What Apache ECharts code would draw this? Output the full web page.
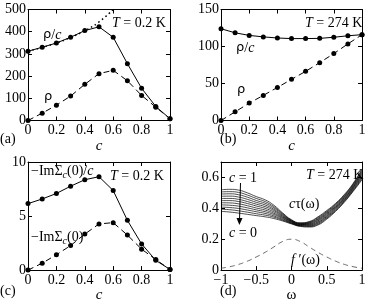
<!DOCTYPE html>
<html><head><meta charset="utf-8">
<script src="https://cdn.jsdelivr.net/npm/echarts@6/dist/echarts.min.js"></script>
<style>html,body{margin:0;padding:0;background:#fff}#c{width:374px;height:304px}</style>
</head><body><div id="c"></div>
<script>
// ---- data ----
const cVals = [0, 0.1, 0.2, 0.3, 0.4, 0.5, 0.6, 0.7, 0.8, 0.9, 1];
// (a) T = 0.2 K
const aRhoOverC = [312, 330, 349, 375, 405, 422, 375, 256, 145, 63, 8];
const aRho = [0, 33, 69, 110, 163, 211, 226, 179, 113, 60, 8];
const aDotC = [0, 0.1, 0.2, 0.3, 0.4, 0.5, 0.6];
const aDot = [312, 329, 349, 374, 404, 444, 500];
// (b) T = 274 K
const bRhoOverC = [124, 118.5, 115, 113, 111.5, 110.7, 110.7, 111, 112.5, 114.5, 116];
const bRho = [0, 11.7, 23.5, 33.9, 44.7, 55.6, 66.4, 78.2, 90.4, 103.5, 116];
// (c) T = 0.2 K
const cImSigOverC = [6.15, 6.58, 7.09, 7.76, 8.36, 8.64, 7.36, 4.6, 2.42, 0.9, 0.06];
const cImSig = [0, 0.64, 1.42, 2.27, 3.33, 4.27, 4.39, 3.24, 1.94, 0.97, 0.06];
// (d) T = 274 K
const omega = [-1, -0.875, -0.75, -0.625, -0.5, -0.375, -0.25, -0.125, 0, 0.125, 0.25, 0.375, 0.5, 0.625, 0.75, 0.875, 1];
const tau_c00 = [0.380,0.376,0.369,0.361,0.353,0.345,0.334,0.318,0.299,0.283,0.279,0.292,0.330,0.380,0.440,0.510,0.585];
const tau_c01 = [0.394,0.391,0.384,0.375,0.365,0.356,0.343,0.323,0.302,0.285,0.283,0.297,0.336,0.385,0.445,0.515,0.592];
const tau_c02 = [0.408,0.405,0.399,0.389,0.378,0.367,0.351,0.328,0.304,0.288,0.286,0.303,0.341,0.390,0.450,0.520,0.599];
const tau_c03 = [0.422,0.420,0.414,0.403,0.390,0.378,0.360,0.334,0.307,0.290,0.290,0.308,0.347,0.396,0.455,0.526,0.606];
const tau_c04 = [0.436,0.435,0.429,0.417,0.402,0.389,0.368,0.339,0.310,0.292,0.293,0.313,0.352,0.401,0.460,0.531,0.613];
const tau_c05 = [0.450,0.450,0.444,0.431,0.415,0.400,0.377,0.344,0.313,0.295,0.297,0.319,0.358,0.406,0.465,0.536,0.620];
const tau_c06 = [0.464,0.464,0.458,0.444,0.427,0.411,0.386,0.349,0.315,0.297,0.300,0.324,0.364,0.411,0.470,0.541,0.627];
const tau_c07 = [0.478,0.479,0.473,0.458,0.439,0.422,0.394,0.354,0.318,0.299,0.304,0.329,0.369,0.416,0.475,0.546,0.634];
const tau_c08 = [0.492,0.494,0.488,0.472,0.451,0.433,0.403,0.360,0.321,0.301,0.307,0.334,0.375,0.422,0.480,0.552,0.641];
const tau_c09 = [0.506,0.508,0.503,0.486,0.464,0.444,0.411,0.365,0.323,0.304,0.311,0.340,0.380,0.427,0.485,0.557,0.648];
const tau_c10 = [0.520,0.523,0.518,0.500,0.476,0.455,0.420,0.370,0.326,0.306,0.314,0.345,0.386,0.432,0.490,0.562,0.655];
const fPrime = [0.012,0.022,0.037,0.058,0.085,0.115,0.150,0.185,0.200,0.185,0.150,0.115,0.085,0.058,0.037,0.022,0.012];
const tauCurves = [tau_c00,tau_c01,tau_c02,tau_c03,tau_c04,tau_c05,tau_c06,tau_c07,tau_c08,tau_c09,tau_c10];

// ---- chart ----
const SERIF = '"Liberation Serif","DejaVu Serif",serif';
const SANS = '"DejaVu Sans","Liberation Sans",sans-serif';
const BLK = '#000';
const fmt = v => String(+v.toFixed(2)).replace('-', '\u2212');

const grids = [
  {left: 28, top: 9.5, width: 142, height: 111},
  {left: 221, top: 9.5, width: 141, height: 111},
  {left: 28, top: 162, width: 142, height: 110},
  {left: 221, top: 162, width: 141, height: 110}
];
const xSpec = [
  {min: 0, max: 1, interval: 0.2, name: 'c', italic: true},
  {min: 0, max: 1, interval: 0.2, name: 'c', italic: true},
  {min: 0, max: 1, interval: 0.2, name: 'c', italic: true},
  {min: -1, max: 1, interval: 0.5, name: '\u03c9', italic: false}
];
const ySpec = [
  {min: 0, max: 500, interval: 100},
  {min: 0, max: 150, interval: 50},
  {min: 0, max: 10, interval: 5},
  {min: 0, max: 0.7, interval: 0.2, hideMax: true}
];
const xAxes = [], yAxes = [];
grids.forEach((g, i) => {
  const xs = xSpec[i], ys = ySpec[i];
  const base = {
    gridIndex: i, type: 'value',
    axisLine: {show: true, onZero: false, lineStyle: {color: BLK, width: 1}},
    axisTick: {show: true, inside: true, length: 4, lineStyle: {color: BLK, width: 1}},
    splitLine: {show: false}
  };
  xAxes.push(Object.assign({}, base, {
    position: 'bottom', min: xs.min, max: xs.max, interval: xs.interval,
    axisLabel: {margin: 3, color: BLK, fontFamily: SERIF, fontSize: 14, formatter: fmt},
    name: xs.name, nameLocation: 'middle', nameGap: xs.italic ? 12 : 13,
    nameTextStyle: {color: BLK, fontFamily: SERIF, fontSize: 15, fontStyle: xs.italic ? 'italic' : 'normal'}
  }));
  xAxes.push(Object.assign({}, base, {
    position: 'top', min: xs.min, max: xs.max, interval: xs.interval,
    axisLabel: {show: false}
  }));
  yAxes.push(Object.assign({}, base, {
    position: 'left', min: ys.min, max: ys.max, interval: ys.interval,
    axisLabel: {margin: 2, color: BLK, fontFamily: SERIF, fontSize: 14, formatter: fmt,
      showMaxLabel: ys.hideMax ? false : null}
  }));
  yAxes.push(Object.assign({}, base, {
    position: 'right', min: ys.min, max: ys.max, interval: ys.interval,
    axisLabel: {show: false}
  }));
});

const zip = (xs, ys) => xs.map((x, k) => [x, ys[k]]);
function solidPts(g, ys) {
  return {type: 'line', xAxisIndex: 2 * g, yAxisIndex: 2 * g, data: zip(cVals, ys),
    symbol: 'circle', symbolSize: 5, itemStyle: {color: BLK},
    lineStyle: {color: BLK, width: 1}, z: 3};
}
function dashedPts(g, ys) {
  return {type: 'line', xAxisIndex: 2 * g, yAxisIndex: 2 * g, data: zip(cVals, ys),
    symbol: 'circle', symbolSize: 5, itemStyle: {color: BLK},
    lineStyle: {color: BLK, width: 1, type: [6, 4]}, z: 3};
}
const series = [
  solidPts(0, aRhoOverC), dashedPts(0, aRho),
  {type: 'line', xAxisIndex: 0, yAxisIndex: 0, data: zip(aDotC, aDot), smooth: true,
    showSymbol: false, symbol: 'none', lineStyle: {color: BLK, width: 1.5, type: [1.5, 3]}, z: 2},
  solidPts(1, bRhoOverC), dashedPts(1, bRho),
  solidPts(2, cImSigOverC), dashedPts(2, cImSig)
];
tauCurves.forEach(arr => series.push({
  type: 'line', xAxisIndex: 6, yAxisIndex: 6, data: zip(omega, arr), smooth: true,
  symbol: 'none', lineStyle: {color: BLK, width: 0.7}
}));
series.push({type: 'line', xAxisIndex: 6, yAxisIndex: 6, data: zip(omega, fPrime), smooth: true,
  symbol: 'none', lineStyle: {color: '#444', width: 0.8, type: [5, 4]}});

function txt(x, y, text, opt) {
  return {type: 'text', x: x, y: y, silent: true, z: 10, style: Object.assign({
    text: text, fill: BLK, font: '14px ' + SERIF, align: 'left', verticalAlign: 'middle'}, opt || {})};
}
const rich = {
  n: {fontFamily: SERIF, fontSize: 14, color: BLK},
  i: {fontFamily: SERIF, fontSize: 14, fontStyle: 'italic', color: BLK},
  g: {fontFamily: SANS, fontSize: 13, color: BLK},
  s: {fontFamily: SERIF, fontSize: 10, fontStyle: 'italic', color: BLK, padding: [9, 0, 0, 0]}
};
const graphic = [
  // panel labels
  txt(0, 139, '(a)'), txt(220, 139, '(b)'), txt(0, 291, '(c)'), txt(220, 291, '(d)'),
  // (a)
  txt(43, 35, '{g|\u03c1}{n|/}{i|c}', {rich: rich}),
  txt(44, 97, '\u03c1', {font: '13px ' + SANS}),
  txt(112, 23, '{i|T}{n| = 0.2 K}', {rich: rich}),
  // (b)
  txt(305, 23, '{i|T}{n| = 274 K}', {rich: rich}),
  txt(236, 48, '{g|\u03c1}{n|/}{i|c}', {rich: rich}),
  txt(237, 90, '\u03c1', {font: '13px ' + SANS}),
  // (c)
  txt(31, 171, '{n|\u2212Im\u03a3}{s|c}{n|(0)/}{i|c}', {rich: rich}),
  txt(31, 237, '{n|\u2212Im\u03a3}{s|c}{n|(0)}', {rich: rich}),
  txt(110, 176, '{i|T}{n| = 0.2 K}', {rich: rich}),
  // (d)
  txt(306, 175, '{i|T}{n| = 274 K}', {rich: rich}),
  txt(229, 178, '{i|c}{n| = 1}', {rich: rich}),
  txt(229, 233, '{i|c}{n| = 0}', {rich: rich}),
  txt(289, 204, '{i|c}{n|\u03c4(\u03c9)}', {rich: rich}),
  txt(291, 260, '{i|f}{n| \u2032(\u03c9)}', {rich: rich}),
  {type: 'line', silent: true, shape: {x1: 240.5, y1: 183, x2: 239.5, y2: 221},
    style: {stroke: BLK, lineWidth: 1}},
  {type: 'polygon', silent: true, shape: {points: [[236.5, 218], [242.5, 218], [239.4, 225]]},
    style: {fill: BLK}}
];

const chart = echarts.init(document.getElementById('c'), null, {renderer: 'canvas'});
chart.setOption({
  animation: false,
  grid: grids,
  xAxis: xAxes,
  yAxis: yAxes,
  series: series,
  graphic: graphic
});
</script></body></html>
